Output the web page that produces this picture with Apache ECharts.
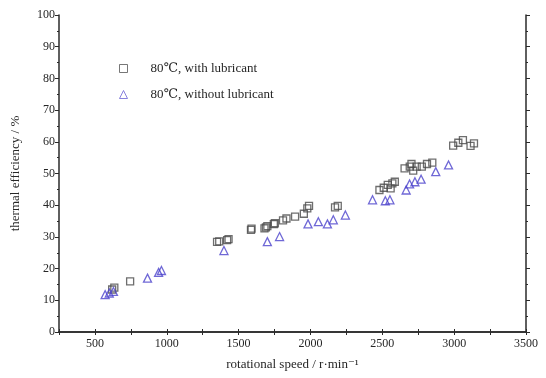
<!DOCTYPE html>
<html><head><meta charset="utf-8">
<script src="https://cdn.jsdelivr.net/npm/echarts@6/dist/echarts.min.js"></script>
<style>html,body{margin:0;padding:0;background:#fff}#c{width:546px;height:378px}</style>
</head><body><div id="c"></div>
<script>
const seriesNames = ['80\u2103, with lubricant', '80\u2103, without lubricant'];
const withSpeed = [620,635,745,1350,1365,1420,1430,1586,1590,1680,1690,1700,1745,1752,1809,1833,1893,1954,1978,1990,2171,2190,2480,2510,2538,2558,2570,2587,2655,2691,2703,2715,2739,2775,2811,2848,2993,3029,3061,3114,3138];
const withEff =   [13.4,14.0,16.0,28.4,28.6,29.0,29.3,32.2,32.6,32.7,33.0,33.4,34.0,34.3,35.2,35.8,36.4,37.3,39.0,39.8,39.3,39.8,44.8,45.5,46.4,45.3,46.9,47.4,51.6,52.2,53.0,50.9,52.2,52.2,53.0,53.4,58.8,59.7,60.5,58.7,59.5];
const withoutSpeed = [571,600,629,866,943,963,1398,1700,1785,1983,2055,2118,2159,2243,2432,2521,2553,2666,2690,2727,2770,2872,2961];
const withoutEff =   [11.8,12.3,12.8,17.0,18.8,19.4,25.7,28.5,30.1,34.1,34.8,34.1,35.4,36.9,41.7,41.4,41.7,44.8,46.7,47.4,48.2,50.6,52.7];
const xTickLabels = [500,1000,1500,2000,2500,3000,3500];
const yTickLabels = [0,10,20,30,40,50,60,70,80,90,100];

const font = '"Liberation Serif", "DejaVu Serif", serif';
const axisCol = '#2a2a2a';
const txtCol = '#262626';
const chart = echarts.init(document.getElementById('c'));
chart.setOption({
  animation: false,
  backgroundColor: '#fff',
  grid: {left: 59, right: 20, top: 15, bottom: 46},
  legend: {
    orient: 'vertical', left: 114, top: 57, itemGap: 13,
    itemWidth: 8, itemHeight: 8,
    textStyle: {fontFamily: font, fontSize: 13, color: txtCol, padding: [0,0,0,18]},
    data: [
      {name: seriesNames[0], icon: 'rect', itemStyle: {color: '#fff', borderColor: '#555', borderWidth: 1}},
      {name: seriesNames[1], icon: 'triangle', itemStyle: {color: '#fff', borderColor: '#6a62d6', borderWidth: 1}}
    ]
  },
  xAxis: [{
    type: 'value', min: 250, max: 3500, interval: 250, position: 'bottom',
    axisLine: {show: true, lineStyle: {color: axisCol, width: 1.5}},
    axisTick: {show: true, length: 3, inside: false, lineStyle: {color: axisCol}},
    splitLine: {show: false},
    axisLabel: {fontFamily: font, fontSize: 12, color: txtCol, margin: 6,
      formatter: v => xTickLabels.includes(v) ? String(v) : ''},
    name: 'rotational speed / r\u00b7min\u207b\u00b9', nameLocation: 'middle', nameGap: 26,
    nameTextStyle: {fontFamily: font, fontSize: 13, color: txtCol}
  }, {
    type: 'value', min: 250, max: 3500, interval: 250, position: 'top',
    axisLine: {show: true, lineStyle: {color: axisCol, width: 1.5}},
    axisTick: {show: true, length: 3, lineStyle: {color: axisCol}},
    axisLabel: {show: false}, splitLine: {show: false}
  }],
  yAxis: [{
    type: 'value', min: 0, max: 100, interval: 10, position: 'left',
    axisLine: {show: true, lineStyle: {color: axisCol, width: 1.5}},
    axisTick: {show: true, length: 4, lineStyle: {color: axisCol}},
    minorTick: {show: true, splitNumber: 2, length: 2, lineStyle: {color: axisCol}},
    splitLine: {show: false},
    axisLabel: {fontFamily: font, fontSize: 12, color: txtCol, margin: 4,
      formatter: v => yTickLabels.includes(v) ? String(v) : ''},
    name: 'thermal efficiency / %', nameLocation: 'middle', nameGap: 37,
    nameTextStyle: {fontFamily: font, fontSize: 13, color: txtCol}
  }, {
    type: 'value', min: 0, max: 100, interval: 10, position: 'right',
    axisLine: {show: true, lineStyle: {color: axisCol, width: 1.5}},
    axisTick: {show: true, length: 4, lineStyle: {color: axisCol}},
    minorTick: {show: true, splitNumber: 2, length: 2, lineStyle: {color: axisCol}},
    axisLabel: {show: false}, splitLine: {show: false}
  }],
  series: [{
    name: seriesNames[0], type: 'scatter', symbol: 'rect', symbolSize: 7,
    itemStyle: {color: 'rgba(255,255,255,0)', borderColor: '#4a4a4a', borderWidth: 1.3},
    data: withSpeed.map((s, i) => [s, withEff[i]])
  }, {
    name: seriesNames[1], type: 'scatter', symbol: 'triangle', symbolSize: 8,
    itemStyle: {color: 'rgba(255,255,255,0)', borderColor: '#4b42cc', borderWidth: 1.3},
    data: withoutSpeed.map((s, i) => [s, withoutEff[i]])
  }]
});
</script></body></html>
